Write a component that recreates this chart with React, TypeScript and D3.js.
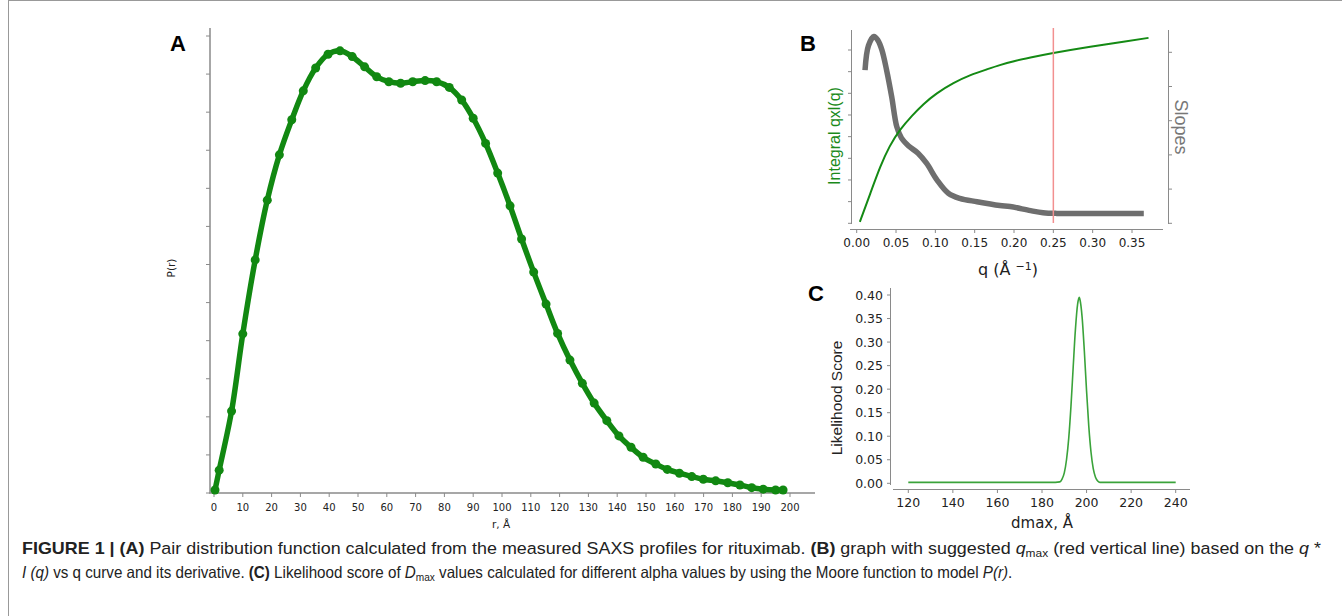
import React, { useLayoutEffect, useRef, useState } from "react";
import * as d3 from "d3";

// ---------- Panel A: P(r) ----------
const rValues = [0.35, 1.8, 6.1, 10.0, 14.3, 18.5, 22.7, 27.0, 31.0, 35.3, 39.6, 43.75, 48.0, 52.3, 56.5, 60.7, 64.8, 69.0, 73.3, 77.3, 81.7, 86.0, 90.0, 94.3, 98.5, 102.8, 106.8, 111.0, 115.3, 119.3, 123.6, 127.9, 132.0, 136.4, 140.6, 144.8, 149.0, 153.4, 157.4, 161.6, 165.9, 169.9, 174.2, 178.4, 182.6, 186.7, 190.7, 195.0, 197.6];
const prValues = [0.08, 0.6, 2.15, 4.18, 6.12, 7.69, 8.88, 9.8, 10.56, 11.16, 11.52, 11.61, 11.46, 11.19, 10.93, 10.8, 10.76, 10.8, 10.83, 10.8, 10.65, 10.32, 9.84, 9.18, 8.4, 7.54, 6.67, 5.8, 4.96, 4.19, 3.49, 2.88, 2.36, 1.9, 1.5, 1.2, 0.94, 0.76, 0.62, 0.52, 0.43, 0.36, 0.32, 0.27, 0.21, 0.14, 0.1, 0.08, 0.08];
const rTicks = [0, 10, 20, 30, 40, 50, 60, 70, 80, 90, 100, 110, 120, 130, 140, 150, 160, 170, 180, 190, 200];
const prTicks = [0, 1, 2, 3, 4, 5, 6, 7, 8, 9, 10, 11, 12];

// ---------- Panel B ----------
const qIntegral = [0.004, 0.017, 0.03, 0.042, 0.055, 0.07, 0.085, 0.102, 0.123, 0.144, 0.165, 0.182, 0.2, 0.221, 0.25, 0.297, 0.339, 0.371];
const integralValues = [0.07, 1.35, 2.6, 3.55, 4.3, 4.95, 5.5, 6.0, 6.47, 6.83, 7.1, 7.3, 7.48, 7.65, 7.86, 8.15, 8.38, 8.56];
const qSlopes = [0.0106, 0.015, 0.022, 0.027, 0.032, 0.038, 0.0445, 0.051, 0.057, 0.066, 0.078, 0.089, 0.102, 0.1165, 0.131, 0.153, 0.182, 0.195, 0.221, 0.237, 0.254, 0.29, 0.32, 0.365];
const slopeValues = [4.48, 5.2, 5.46, 5.35, 5.07, 4.48, 3.7, 2.82, 2.49, 2.26, 2.05, 1.75, 1.27, 0.88, 0.73, 0.63, 0.52, 0.49, 0.37, 0.31, 0.29, 0.29, 0.29, 0.29];
const qTicks = [0, 0.05, 0.1, 0.15, 0.2, 0.25, 0.3, 0.35];
const integralTicks = [0, 1, 2, 3, 4, 5, 6, 7, 8];
const slopeTicks = [0, 1, 2, 3, 4, 5];
const qMax = 0.25;

// ---------- Panel C ----------
const dmaxValues = [120, 140, 160, 180, 186, 188, 189, 190, 191, 192, 193, 194, 195, 196, 196.7, 197, 198, 199, 200, 201, 202, 203, 204, 205, 206, 220, 240];
const scoreValues = [0.002, 0.002, 0.002, 0.002, 0.002, 0.003, 0.009, 0.022, 0.05, 0.096, 0.164, 0.247, 0.327, 0.381, 0.395, 0.391, 0.353, 0.281, 0.196, 0.121, 0.066, 0.031, 0.013, 0.005, 0.002, 0.002, 0.002];
const dmaxTicks = [120, 140, 160, 180, 200, 220, 240];
const scoreTicks = [0, 0.05, 0.1, 0.15, 0.2, 0.25, 0.3, 0.35, 0.4];

const AX = "#8a8a8a";
const TXT = "#222";
const TICKFONT = "DejaVu Sans";

function FitText({ x, y, width, children }: { x: number; y: number; width: number; children: React.ReactNode }) {
  const ref = useRef<SVGTextElement | null>(null);
  const [sx, setSx] = useState(1);
  useLayoutEffect(() => {
    if (ref.current) {
      const w = ref.current.getBBox().width;
      if (w > 0) setSx(width / w);
    }
  }, [width]);
  return (
    <g transform={`translate(${x},${y}) scale(${sx},1)`}>
      <text ref={ref} x={0} y={0} fontSize={16.5} fill="#222">
        {children}
      </text>
    </g>
  );
}

export default function App() {
  // Scales A
  const xA = d3.scaleLinear().domain([0, 200]).range([214, 790]);
  const yA = d3.scaleLinear().domain([0, 12]).range([493, 36]);
  const lineA = d3
    .line<number>()
    .x((_, i) => xA(rValues[i]))
    .y((d) => yA(d))
    .curve(d3.curveCatmullRom);

  // Scales B
  const xB = d3.scaleLinear().domain([0, 0.35]).range([856.7, 1132]);
  const yBL = d3.scaleLinear().domain([0, 8]).range([223.3, 50]);
  const yBR = d3.scaleLinear().domain([0, 5]).range([223.3, 52.3]);
  const lineInt = d3
    .line<number>()
    .x((_, i) => xB(qIntegral[i]))
    .y((d) => yBL(d))
    .curve(d3.curveNatural);
  const lineSlope = d3
    .line<number>()
    .x((_, i) => xB(qSlopes[i]))
    .y((d) => yBR(d))
    .curve(d3.curveCatmullRom);

  // Scales C
  const xC = d3.scaleLinear().domain([120, 240]).range([908.3, 1175.7]);
  const yC = d3.scaleLinear().domain([0, 0.4]).range([483.3, 295]);
  const lineC = d3
    .line<number>()
    .x((_, i) => xC(dmaxValues[i]))
    .y((d) => yC(d))
    .curve(d3.curveMonotoneX);

  const cap1 = "Pair distribution function calculated from the measured SAXS profiles for rituximab. ";

  return (
    <svg
      width={1342}
      height={616}
      style={{ position: "absolute", left: 0, top: 0, background: "#fff" }}
      fontFamily="Liberation Sans, Arial, sans-serif"
    >
      {/* frame */}
      <line x1={8.5} y1={0} x2={8.5} y2={616} stroke="#999" strokeWidth={1} />
      <line x1={8} y1={0.5} x2={1342} y2={0.5} stroke="#999" strokeWidth={1} />

      {/* ================= Panel A ================= */}
      <text x={178} y={51} fontSize={22} fontWeight="bold" textAnchor="middle" fill="#000">A</text>
      <line x1={210} y1={28} x2={210} y2={493} stroke={AX} strokeWidth={1.5} />
      <line x1={209} y1={493} x2={815} y2={493} stroke={AX} strokeWidth={1.5} />
      {prTicks.map((t) => (
        <line key={"pa" + t} x1={206} x2={210} y1={yA(t)} y2={yA(t)} stroke={AX} strokeWidth={1} />
      ))}
      {rTicks.map((t) => (
        <g key={"ra" + t}>
          <line x1={xA(t)} x2={xA(t)} y1={493} y2={497} stroke={AX} strokeWidth={1} />
          <text x={xA(t)} y={511} fontSize={10} fontFamily={TICKFONT} textAnchor="middle" fill={TXT}>{t}</text>
        </g>
      ))}
      <text x={501} y={528} fontSize={10.5} fontFamily={TICKFONT} textAnchor="middle" fill={TXT}>r, Å</text>
      <text transform="translate(175,268) rotate(-90)" fontSize={10.5} fontFamily={TICKFONT} textAnchor="middle" fill={TXT}>P(r)</text>
      <path d={lineA(prValues) || ""} fill="none" stroke="#118811" strokeWidth={5.5} strokeLinejoin="round" strokeLinecap="round" />
      {prValues.map((v, i) => (
        <circle key={"m" + i} cx={xA(rValues[i])} cy={yA(v)} r={4.5} fill="#118811" />
      ))}

      {/* ================= Panel B ================= */}
      <text x={808} y={51} fontSize={22} fontWeight="bold" textAnchor="middle" fill="#000">B</text>
      <line x1={851.5} y1={30} x2={851.5} y2={224} stroke={AX} strokeWidth={1} />
      <line x1={1168.5} y1={30} x2={1168.5} y2={224} stroke={AX} strokeWidth={1} />
      <line x1={850} y1={229.5} x2={1163} y2={229.5} stroke={AX} strokeWidth={1} />
      {integralTicks.map((t) => (
        <line key={"bl" + t} x1={848} x2={851.5} y1={yBL(t)} y2={yBL(t)} stroke={AX} strokeWidth={1} />
      ))}
      {slopeTicks.map((t) => (
        <line key={"br" + t} x1={1168.5} x2={1172} y1={yBR(t)} y2={yBR(t)} stroke={AX} strokeWidth={1} />
      ))}
      {qTicks.map((t) => (
        <g key={"bq" + t}>
          <line x1={xB(t)} x2={xB(t)} y1={229.5} y2={233} stroke={AX} strokeWidth={1} />
          <text x={xB(t)} y={247} fontSize={12} fontFamily={TICKFONT} textAnchor="middle" fill={TXT}>{t.toFixed(2)}</text>
        </g>
      ))}
      <text x={1008} y={275} fontSize={16} fontFamily={TICKFONT} textAnchor="middle" fill={TXT}>
        q (Å <tspan fontSize={11} dy={-5}>−1</tspan><tspan dy={5}>)</tspan>
      </text>
      <text transform="translate(840,136) rotate(-90)" fontSize={16} textAnchor="middle" fill="#1a8a1a">Integral qxl(q)</text>
      <text transform="translate(1175,127) rotate(90)" fontSize={18} textAnchor="middle" fill="#777">Slopes</text>
      <path d={lineSlope(slopeValues) || ""} fill="none" stroke="#6e6e6e" strokeWidth={5.5} strokeLinejoin="round" />
      <path d={lineInt(integralValues) || ""} fill="none" stroke="#148a14" strokeWidth={2} />
      <line x1={xB(qMax)} x2={xB(qMax)} y1={28} y2={223} stroke="#f29090" strokeWidth={1.5} />

      {/* ================= Panel C ================= */}
      <text x={816} y={301} fontSize={22} fontWeight="bold" textAnchor="middle" fill="#000">C</text>
      <line x1={890.5} y1={288} x2={890.5} y2={485} stroke={AX} strokeWidth={1} />
      <line x1={893} y1={489.5} x2={1190} y2={489.5} stroke={AX} strokeWidth={1} />
      {scoreTicks.map((t) => (
        <g key={"cs" + t}>
          <line x1={887} x2={890.5} y1={yC(t)} y2={yC(t)} stroke={AX} strokeWidth={1} />
          <text x={883} y={yC(t) + 4.5} fontSize={12.5} fontFamily={TICKFONT} textAnchor="end" fill={TXT}>{t.toFixed(2)}</text>
        </g>
      ))}
      {dmaxTicks.map((t) => (
        <g key={"cd" + t}>
          <line x1={xC(t)} x2={xC(t)} y1={489.5} y2={493} stroke={AX} strokeWidth={1} />
          <text x={xC(t)} y={507} fontSize={12.5} fontFamily={TICKFONT} textAnchor="middle" fill={TXT}>{t}</text>
        </g>
      ))}
      <text x={1042} y={528} fontSize={15} fontFamily={TICKFONT} textAnchor="middle" fill={TXT}>dmax, Å</text>
      <text transform="translate(842,398) rotate(-90)" fontSize={15.5} textAnchor="middle" fill={TXT}>Likelihood Score</text>
      <path d={lineC(scoreValues) || ""} fill="none" stroke="#3aa33a" strokeWidth={1.6} />

      {/* ================= Caption ================= */}
      <FitText x={22} y={554} width={1300}>
        <tspan fontWeight="bold">FIGURE 1 | (A) </tspan>
        <tspan>{cap1}</tspan>
        <tspan fontWeight="bold">(B) </tspan>
        <tspan>graph with suggested </tspan>
        <tspan fontStyle="italic">q</tspan>
        <tspan fontSize={11} dy={3}>max</tspan>
        <tspan dy={-3}> (red vertical line) based on the </tspan>
        <tspan fontStyle="italic">q</tspan>
        <tspan> *</tspan>
      </FitText>
      <FitText x={22} y={578} width={991}>
        <tspan fontStyle="italic">I (q)</tspan>
        <tspan> vs q curve and its derivative. </tspan>
        <tspan fontWeight="bold">(C) </tspan>
        <tspan>Likelihood score of </tspan>
        <tspan fontStyle="italic">D</tspan>
        <tspan fontSize={11} dy={3}>max</tspan>
        <tspan dy={-3}> values calculated for different alpha values by using the Moore function to model </tspan>
        <tspan fontStyle="italic">P(r)</tspan>
        <tspan>.</tspan>
      </FitText>
    </svg>
  );
}
